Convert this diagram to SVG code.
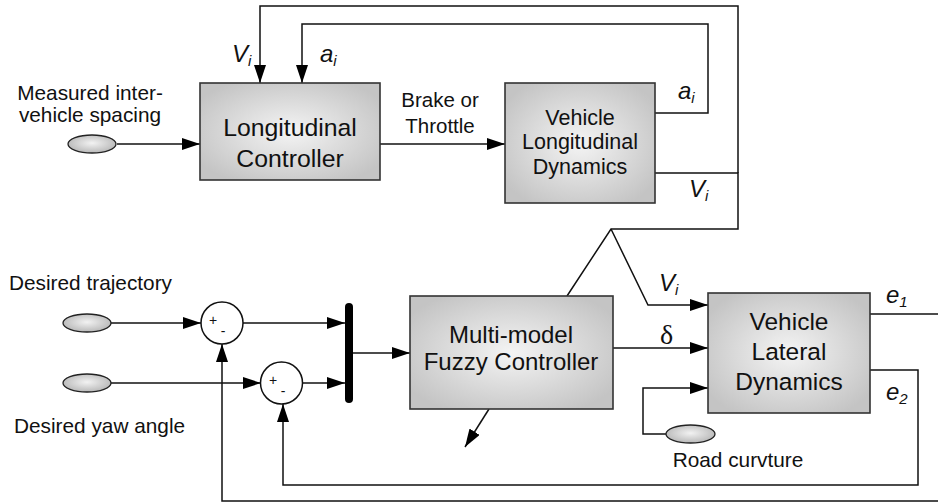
<svg xmlns="http://www.w3.org/2000/svg" width="938" height="503" viewBox="0 0 938 503">
<style>
.t{font-family:"Liberation Sans",Arial,sans-serif;fill:#111}
.it{font-family:"Liberation Sans",Arial,sans-serif;font-style:italic;fill:#111}
.ln{fill:none;stroke:#111;stroke-width:1.5}
.box{fill:url(#bg);stroke:#333;stroke-width:1.6}
.ell{fill:url(#eg);stroke:#222;stroke-width:1.3}
.sum{fill:#fff;stroke:#111;stroke-width:1.5}
</style>
<defs>
<radialGradient id="bg" cx="50%" cy="50%" r="60%">
<stop offset="0" stop-color="#f4f4f4"/>
<stop offset="1" stop-color="#c4c4c4"/>
</radialGradient>
<radialGradient id="eg" cx="50%" cy="45%" r="55%">
<stop offset="0" stop-color="#f2f2f2"/>
<stop offset="1" stop-color="#b8b8b8"/>
</radialGradient>
<marker id="ar" markerUnits="userSpaceOnUse" viewBox="0 0 18 12" refX="18" refY="6" markerWidth="18" markerHeight="12" orient="auto">
<path d="M0,0 L18,6 L0,12 Z" fill="#000"/>
</marker>
</defs>

<g id="connectors">
<path class="ln" d="M117,144 H200" marker-end="url(#ar)"/>
<path class="ln" d="M380,144 H505" marker-end="url(#ar)"/>
<path class="ln" d="M655,113 H708 V24 H302 V83" marker-end="url(#ar)"/>
<path class="ln" d="M738,173 V6 H260 V83" marker-end="url(#ar)"/>
<path class="ln" d="M655,173 H738 V229 H611 L567,296"/>
<path class="ln" d="M611,229 L648,305 H708" marker-end="url(#ar)"/>
<path class="ln" d="M613,348 H708" marker-end="url(#ar)"/>
<path class="ln" d="M666,434 H643 V388 H708" marker-end="url(#ar)"/>
<path class="ln" d="M870,314 H938"/>
<path class="ln" d="M870,370 H918 V485 H283 V404" marker-end="url(#ar)"/>
<path class="ln" d="M938,501 H222 V344" marker-end="url(#ar)"/>
<path class="ln" d="M111,323 H201" marker-end="url(#ar)"/>
<path class="ln" d="M111,383 H261" marker-end="url(#ar)"/>
<path class="ln" d="M243,323 H345" marker-end="url(#ar)"/>
<path class="ln" d="M302,383 H345" marker-end="url(#ar)"/>
<path class="ln" d="M353,353 H410" marker-end="url(#ar)"/>
<path class="ln" d="M489,409 L465,447" marker-end="url(#ar)"/>
</g>

<g id="label-spacing">
<text class="t" x="90" y="100" font-size="20.8" text-anchor="middle">Measured inter-</text>
<text class="t" x="90" y="122" font-size="20.8" text-anchor="middle">vehicle spacing</text>
</g>
<g id="src-spacing"><ellipse class="ell" cx="92" cy="144" rx="24" ry="9"/></g>

<g id="long-controller">
<rect class="box" x="200" y="83" width="180" height="97"/>
<text class="t" x="290" y="136" font-size="24.8" text-anchor="middle">Longitudinal</text>
<text class="t" x="290" y="167" font-size="24.8" text-anchor="middle">Controller</text>
</g>

<g id="label-brake">
<text class="t" x="440" y="107" font-size="20.5" text-anchor="middle">Brake or</text>
<text class="t" x="440" y="133" font-size="20.5" text-anchor="middle">Throttle</text>
</g>

<g id="veh-long">
<rect class="box" x="505" y="83" width="150" height="120"/>
<text class="t" x="580" y="125" font-size="21.5" text-anchor="middle">Vehicle</text>
<text class="t" x="580" y="149" font-size="21.5" text-anchor="middle">Longitudinal</text>
<text class="t" x="580" y="174" font-size="21.5" text-anchor="middle">Dynamics</text>
</g>

<g id="labels-top">
<text class="it" x="232" y="62" font-size="24">V<tspan font-size="15" dy="4">i</tspan></text>
<text class="it" x="320" y="62" font-size="24">a<tspan font-size="15" dy="4">i</tspan></text>
<text class="it" x="678" y="99" font-size="24">a<tspan font-size="15" dy="4">i</tspan></text>
<text class="it" x="689" y="197" font-size="24">V<tspan font-size="15" dy="4">i</tspan></text>
</g>

<g id="src-traj">
<text class="t" x="9" y="290" font-size="20.8">Desired trajectory</text>
<ellipse class="ell" cx="87" cy="323" rx="24" ry="9"/>
</g>
<g id="src-yaw">
<ellipse class="ell" cx="87" cy="383" rx="24" ry="9"/>
<text class="t" x="14" y="433" font-size="20.8">Desired yaw angle</text>
</g>

<g id="sum1">
<circle class="sum" cx="222" cy="323" r="21"/>
<text class="t" x="213" y="325" font-size="14" text-anchor="middle">+</text>
<text class="t" x="223" y="336" font-size="14" text-anchor="middle">-</text>
</g>
<g id="sum2">
<circle class="sum" cx="281.5" cy="383" r="21"/>
<text class="t" x="273" y="385" font-size="14" text-anchor="middle">+</text>
<text class="t" x="283" y="396" font-size="14" text-anchor="middle">-</text>
</g>

<g id="mux"><rect x="345" y="303" width="8" height="100" rx="4" fill="#000"/></g>

<g id="fuzzy-controller">
<rect class="box" x="410" y="296" width="203" height="113"/>
<text class="t" x="511" y="343" font-size="24" text-anchor="middle">Multi-model</text>
<text class="t" x="511" y="370" font-size="24" text-anchor="middle">Fuzzy Controller</text>
</g>

<g id="labels-lat">
<text class="it" x="659" y="291" font-size="24">V<tspan font-size="15" dy="4">i</tspan></text>
<text x="660" y="344" font-size="28" font-family="'Liberation Serif',serif" fill="#111">δ</text>
<text class="it" x="886" y="303" font-size="24">e<tspan font-size="15" dy="4">1</tspan></text>
<text class="it" x="886" y="400" font-size="24">e<tspan font-size="15" dy="4">2</tspan></text>
</g>

<g id="veh-lat">
<rect class="box" x="708" y="293" width="162" height="120"/>
<text class="t" x="789" y="330" font-size="24.5" text-anchor="middle">Vehicle</text>
<text class="t" x="789" y="360" font-size="24.5" text-anchor="middle">Lateral</text>
<text class="t" x="789" y="390" font-size="24.5" text-anchor="middle">Dynamics</text>
</g>

<g id="src-road">
<ellipse class="ell" cx="690.5" cy="434" rx="24.5" ry="9"/>
<text class="t" x="738" y="467" font-size="20.8" text-anchor="middle">Road curvture</text>
</g>
</svg>
